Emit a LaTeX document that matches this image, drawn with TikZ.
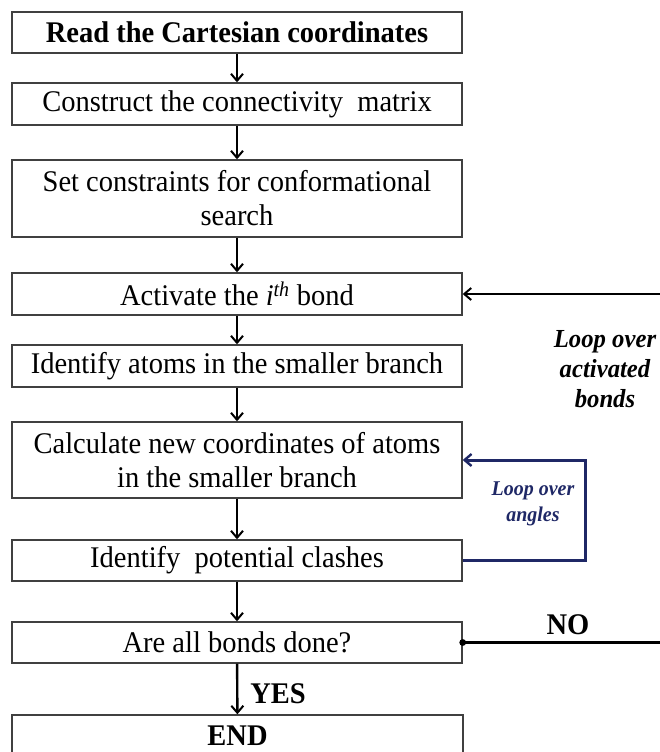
\documentclass[tikz,border=0pt]{standalone}
\usepackage{fontspec}
\setmainfont[FakeStretch=0.95]{Liberation Serif}
\usetikzlibrary{arrows.meta}
\definecolor{navy}{RGB}{31,40,102}
\begin{document}
\begin{tikzpicture}[x=1pt,y=-1pt,
  box/.style={draw=black!75, line width=1.4pt, minimum width=450pt, inner sep=0pt, align=center,
    font=\fontsize{30}{34}\selectfont},
  arr/.style={-{Straight Barb[length=7pt,width=12pt,line width=2pt]}, line width=2.4pt},
  barr/.style={-{Straight Barb[length=7pt,width=12pt,line width=2.4pt]}, line width=3pt, draw=navy},
  lbl/.style={font=\fontsize{26}{30}\selectfont\bfseries\itshape, align=center},
  blbl/.style={font=\fontsize{21}{26}\selectfont\bfseries\itshape, align=center, text=navy},
  yn/.style={font=\fontsize{30}{34}\selectfont\bfseries}]
\useasboundingbox (0,0) rectangle (659,752);
\node[box, minimum height=41pt] (b1) at (237,32.5) {\textbf{Read the Cartesian coordinates}};
\node[box, minimum height=42pt] (b2) at (237,104) {Construct the connectivity\ \ matrix};
\node[box, minimum height=77pt] (b3) at (237,198.5) {Set constraints for conformational\\search};
\node[box, minimum height=42pt] (b4) at (237,294) {Activate the \textit{i}\textsuperscript{\textit{th}} bond};
\node[box, minimum height=42pt] (b5) at (237,366) {Identify atoms in the smaller branch};
\node[box, minimum height=76pt] (b6) at (237,460) {Calculate new coordinates of atoms\\in the smaller branch};
\node[box, minimum height=41pt] (b7) at (237,560.5) {Identify\ \ potential clashes};
\node[box, minimum height=41pt] (b8) at (237,642.5) {Are all bonds done?};
\node[box, minimum height=42pt, minimum width=451pt] (b9) at (237.5,736) {\textbf{END}};
\draw[arr] (b1) -- (b2);
\draw[arr] (b2) -- (b3);
\draw[arr] (b3) -- (b4);
\draw[arr] (b4) -- (b5);
\draw[arr] (b5) -- (b6);
\draw[arr] (b6) -- (b7);
\draw[arr] (b7) -- (b8);
\draw[arr] (b8) -- (b9);
\node[yn] (yes) at (278,694) {YES};
\coordinate (nr) at (690,642.5);
\draw[arr] (b8.east) -- (nr) |- (b4.east);
\fill (b8.east) circle (3.4pt);
\node[yn] (no) at (568,625) {NO};
\node[lbl] (loop1) at (605,369) {Loop over\\activated\\bonds};
\coordinate (br) at (585,560.5);
\draw[barr] (b7.east) -- (br) |- (b6.east);
\node[blbl] (loop2) at (533,504) {Loop over\\angles};
\end{tikzpicture}
\end{document}
